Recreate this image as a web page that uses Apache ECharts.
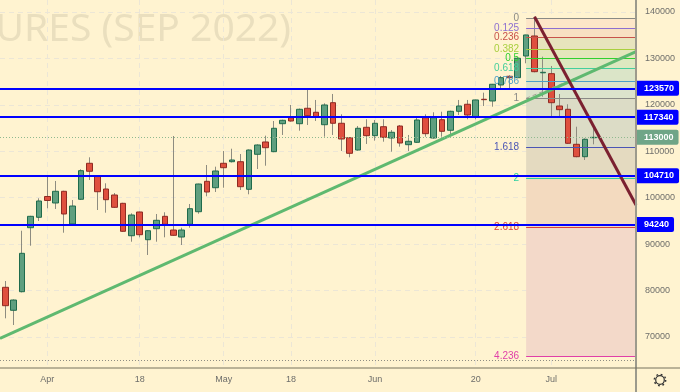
<!DOCTYPE html>
<html>
<head>
<meta charset="utf-8">
<title>Futures Sep 2022</title>
<script src="https://cdn.jsdelivr.net/npm/echarts@6/dist/echarts.min.js"></script>
<style>
  html, body { margin: 0; padding: 0; background: #fff3d0; }
  #chart { width: 680px; height: 392px; }
</style>
</head>
<body>
<div id="chart"></div>
<script>
// candles
var opens = [80700, 75750, 79750, 93540, 95780, 100260, 98860, 101380, 94340, 99660, 107410, 104670, 101870, 100580, 98790, 91810, 96920, 90950, 93320, 95990, 93040, 91530, 94270, 96980, 103530, 102150, 107410, 107750, 107750, 101810, 109350, 112000, 109910, 115940, 117230, 115940, 119260, 118400, 115720, 120460, 116030, 112920, 110270, 115160, 113360, 115290, 112860, 115440, 111420, 111930, 117230, 112860, 116800, 114520, 118610, 120120, 117320, 121200, 120830, 124280, 126150, 125850, 130520, 134830, 126900, 126710, 119750, 119040, 111500, 108830, 112920];
var closes = [76740, 77960, 88020, 95990, 99290, 99400, 101380, 96490, 98210, 105820, 105690, 101290, 99570, 97930, 92760, 96270, 92030, 92890, 95130, 94270, 91900, 93040, 97630, 102950, 101230, 105750, 106460, 108120, 102370, 110270, 111350, 110770, 114950, 116670, 116520, 119040, 117660, 117450, 119970, 116030, 112640, 109560, 114950, 113360, 116030, 113010, 114090, 111780, 112150, 116740, 113790, 117230, 114300, 118610, 119750, 117810, 121050, 121110, 124430, 125850, 125850, 130030, 135050, 127140, 127010, 120460, 118960, 111720, 108830, 112580, 113000];
var lows = [74020, 72580, 79600, 89660, 94980, 97720, 97570, 92460, 94200, 99500, 103810, 97350, 96770, 97800, 92650, 90520, 91470, 87660, 90520, 91470, 91800, 89810, 93540, 96550, 100300, 101230, 102150, 107580, 101660, 100730, 106180, 106890, 109800, 113510, 116370, 114430, 115660, 116520, 113140, 113510, 110060, 108700, 110120, 111570, 112280, 112060, 109910, 110990, 110060, 111800, 113140, 112700, 113140, 113510, 117810, 116890, 116890, 119750, 119600, 123200, 123200, 125720, 128950, 127000, 121760, 117600, 117450, 111600, 108700, 108120, 111500];
var highs = [82060, 78100, 92890, 96100, 99870, 104520, 103600, 101500, 99500, 106120, 108700, 104800, 103100, 101010, 98900, 96640, 97000, 93000, 96490, 96860, 113290, 93540, 98640, 103020, 107040, 106680, 110060, 110550, 109410, 110400, 111500, 113360, 116520, 116800, 119970, 119210, 123570, 121050, 120330, 122340, 117960, 113000, 115440, 116890, 116740, 116890, 114580, 115660, 113510, 117170, 117960, 118400, 118520, 118740, 121050, 121050, 121100, 122620, 124500, 126210, 126370, 130240, 135100, 138990, 130370, 128370, 122340, 120120, 115290, 112800, 115290];

// axes
var xTickIndex = [5, 16, 26, 34, 44, 56, 65];
var xTickLabels = ['Apr', '18', 'May', '18', 'Jun', '20', 'Jul'];
var yTicks = [70000, 80000, 90000, 100000, 110000, 120000, 130000, 140000];

// horizontal levels
var blueLevels = [123570, 117340, 104710, 94240];
var lastPrice = 113000;
var lowDotted = 64890;

// fibonacci retracement
var fibStart = 62;
var fibLabels = ['0', '0.125', '0.236', '0.382', '0.5', '0.618', '0.786', '1', '1.618', '2', '2.618', '4.236'];
var fibPrices = [138640, 136490, 134610, 132030, 130030, 127940, 125070, 121410, 110920, 104240, 93620, 65840];
var fibColors = ['#8a8a86', '#8d6fd0', '#c8524a', '#a9cf3f', '#2fd02f', '#45cf9c', '#4d9fc8', '#8a8a86', '#4a55b5', '#2fd0a0', '#d8403a', '#e03fa8'];
var fibBands = ['#fde6c8', '#f8e0c2', '#e7e4bd', '#e4e6bb', '#dde8c0', '#dbe5c8', '#dce3cc', '#dcdcc6', '#e4dac0', '#f3dabf', '#f3d9c9'];

// drawn trend lines [index, price]
var xMin = -0.63;
var xMax = 75.08;
var greenTrend = [[xMin, 69710], [xMax, 131450]];
var redTrend = [[63, 138990], [xMax, 98430]];
var fibDiagonal = [[62, 121410], [69.8, 127140]];

var wickData = opens.map(function (o, i) {
  return [i, o, closes[i], lows[i], highs[i]];
});
// second pass draws just the bodies so wicks can stay grey
var bodyData = opens.map(function (o, i) {
  return [i, o, closes[i], Math.min(o, closes[i]), Math.max(o, closes[i])];
});

var fibLines = fibPrices.map(function (p, i) {
  return [{
    coord: [fibStart, p],
    lineStyle: { color: fibColors[i], width: 1, type: 'solid' },
    label: { show: true, position: 'start', formatter: fibLabels[i], color: fibColors[i], fontSize: 10, distance: 7, fontFamily: 'Liberation Sans' }
  }, {
    coord: [xMax, p]
  }];
});
var fibAreas = fibBands.map(function (c, i) {
  return [{ coord: [fibStart, fibPrices[i]], itemStyle: { color: c } }, { coord: [xMax, fibPrices[i + 1]] }];
});

function priceTag(v, bg) {
  return {
    yAxis: v,
    label: {
      show: true, position: 'end', distance: 0, formatter: String(v),
      color: '#fff', backgroundColor: bg, fontSize: 9, fontWeight: 'bold', fontFamily: 'Liberation Sans',
      padding: [3, 5, 3, 8], borderRadius: [0, 2, 2, 0]
    }
  };
}

var dom = document.getElementById('chart');
var myChart = echarts.init(dom);

var option = {
  animation: false,
  backgroundColor: '#fff3d0',
  grid: { left: 0, right: 44, top: 0, bottom: 24 },
  xAxis: {
    type: 'value',
    min: xMin,
    max: xMax,
    axisLine: { show: false },
    axisTick: { show: false, customValues: xTickIndex },
    axisLabel: {
      customValues: xTickIndex,
      color: '#6d6d6a', fontSize: 9, margin: 7, fontFamily: 'Liberation Sans',
      formatter: function (v) { return xTickLabels[xTickIndex.indexOf(v)]; }
    },
    splitLine: { lineStyle: { color: '#ece6d6', type: [5, 4] } }
  },
  yAxis: {
    type: 'value',
    position: 'right',
    min: 63320,
    max: 142580,
    axisLine: { show: false },
    axisTick: { show: false, customValues: yTicks },
    axisLabel: {
      customValues: yTicks,
      color: '#6f6f6b', fontSize: 9, margin: 9, fontFamily: 'Liberation Sans',
      formatter: function (v) { return String(v); }
    },
    splitLine: { lineStyle: { color: '#ece6d6', type: [5, 4] } }
  },
  series: [{
    name: 'fib',
    type: 'line',
    data: [],
    z: 1,
    markArea: { silent: true, z: 1, data: fibAreas },
    markLine: { silent: true, symbol: 'none', z: 5, data: fibLines }
  }, {
    name: 'wicks',
    type: 'candlestick',
    data: wickData,
    barWidth: 1,
    z: 3,
    itemStyle: { color: '#8e8c80', color0: '#8e8c80', borderColor: '#8e8c80', borderColor0: '#8e8c80', borderWidth: 1 }
  }, {
    name: 'bodies',
    type: 'candlestick',
    data: bodyData,
    barWidth: 6,
    z: 4,
    itemStyle: { color: '#5f9f7f', color0: '#df4f3e', borderColor: '#1f6b4c', borderColor0: '#8f2a22', borderWidth: 1 }
  }, {
    name: 'diagonal',
    type: 'line',
    data: fibDiagonal,
    symbol: 'none',
    z: 5,
    lineStyle: { color: '#a3a396', width: 1, type: [4, 3] }
  }, {
    name: 'green trend',
    type: 'line',
    data: greenTrend,
    symbol: 'none',
    z: 6,
    lineStyle: { color: '#5fb970', width: 3 }
  }, {
    name: 'red trend',
    type: 'line',
    data: redTrend,
    symbol: 'none',
    z: 6,
    lineStyle: { color: '#7b2030', width: 3 }
  }, {
    name: 'levels',
    type: 'line',
    data: [],
    z: 7,
    markLine: {
      silent: true,
      symbol: 'none',
      z: 7,
      lineStyle: { color: '#0000ff', width: 2, type: 'solid' },
      data: blueLevels.map(function (v) { return priceTag(v, '#0000ff'); }).concat([
        Object.assign(priceTag(lastPrice, '#6fa587'), { lineStyle: { color: '#8fb98f', width: 1, type: [1, 2] } }),
        { yAxis: lowDotted, label: { show: false }, lineStyle: { color: '#8f8d84', width: 1, type: [1, 2] } }
      ])
    }
  }],
  graphic: [{
    type: 'text', z: 0, silent: true,
    style: { x: 291, y: 49, text: 'URES (SEP 2022)', align: 'right', verticalAlign: 'bottom', font: '39px "Noto Sans"', fill: '#eadfbe' }
  }, {
    type: 'line', z: 100, silent: true,
    shape: { x1: 636, y1: 0, x2: 636, y2: 392 },
    style: { stroke: '#9c9a8c', lineWidth: 2 }
  }, {
    type: 'line', z: 100, silent: true,
    shape: { x1: 0, y1: 368, x2: 680, y2: 368 },
    style: { stroke: '#77725f', lineWidth: 1 }
  }, {
    // settings gear
    type: 'circle', z: 100, silent: true,
    shape: { cx: 660, cy: 380, r: 4.3 },
    style: { fill: 'none', stroke: '#333', lineWidth: 1.2 }
  }, {
    type: 'circle', z: 100, silent: true,
    shape: { cx: 660, cy: 380, r: 5.7 },
    style: { fill: 'none', stroke: '#333', lineWidth: 1.4, lineDash: [1.8, 2.68] }
  }]
};

if (option && typeof option === 'object') {
  myChart.setOption(option);
}
</script>
</body>
</html>
